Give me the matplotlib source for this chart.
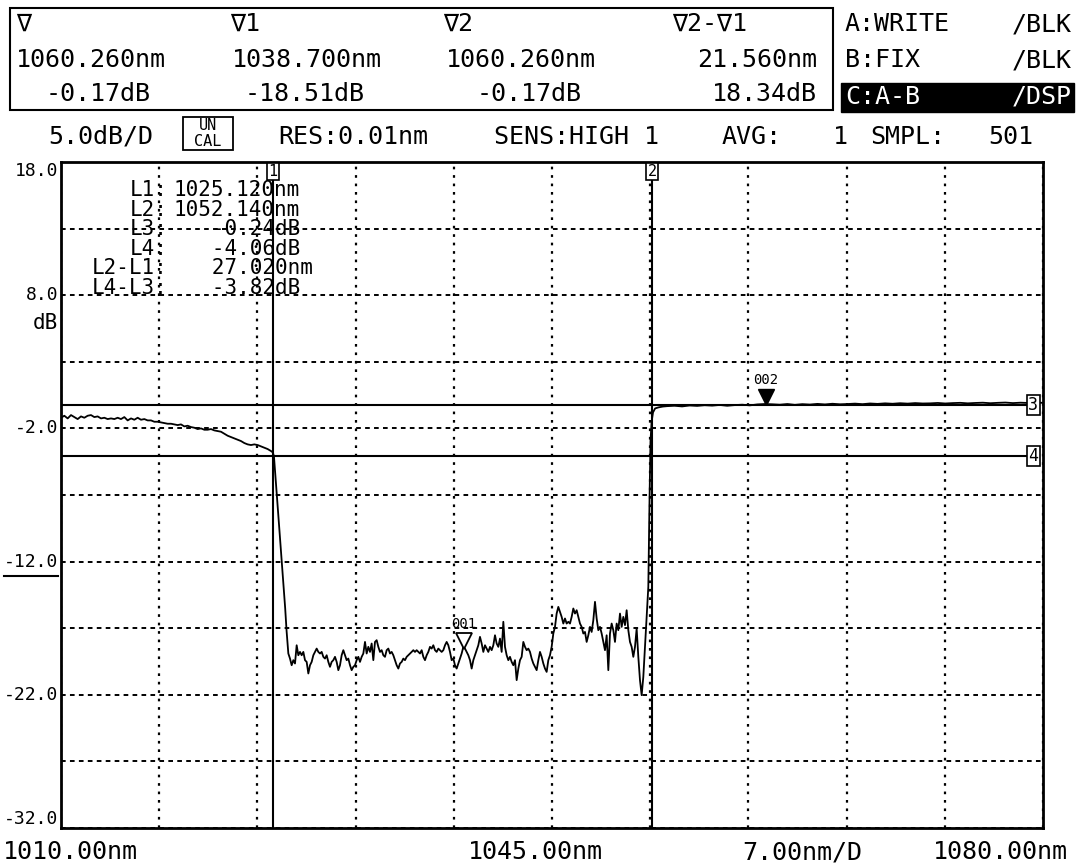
"""
Pantalla de analizador de espectro óptico: transmisión de un filtro (A-B).
"""
import numpy as np
import matplotlib.pyplot as plt
import matplotlib.transforms as mtransforms
from matplotlib.patches import Rectangle
from matplotlib.lines import Line2D

# ---------------- datos ----------------
wl_start, wl_stop = 1010.0, 1080.0
db_top, db_bottom = 18.0, -32.0
y_ticks = [18.0, 8.0, -2.0, -12.0, -22.0, -32.0]

# banda de paso izquierda (paso 0.2376 nm desde 1010 nm)
pass_left_start = 1010.0
pass_left_step = 0.2376
pass_left_db = [
    -1.20, -1.05, -1.25, -1.00, -1.15, -1.30, -1.10, -1.20, -1.05, -1.00,
    -1.15, -1.10, -1.25, -1.20, -1.30, -1.25, -1.30, -1.20, -1.30, -1.15,
    -1.40, -1.25, -1.35, -1.20, -1.35, -1.30, -1.40, -1.40, -1.50, -1.50,
    -1.55, -1.60, -1.65, -1.65, -1.70, -1.75, -1.70, -1.85, -1.80, -1.90,
    -1.95, -2.05, -2.00, -2.10, -2.10, -2.05, -2.15, -2.20, -2.25, -2.40,
    -2.55, -2.65, -2.75, -2.85, -2.95, -3.10, -3.20, -3.25, -3.20, -3.25,
    -3.35, -3.45, -3.55, -3.70,
]

# flanco de bajada
edge_down_wl = [1025.10, 1025.18, 1025.28, 1025.42, 1025.56, 1025.70, 1025.84, 1025.98, 1026.08]
edge_down_db = [-3.80, -4.10, -5.50, -7.50, -9.50, -11.50, -13.50, -15.50, -17.20]

# banda de rechazo (paso 0.1188 nm)
stop_start = 1026.205
stop_step = 0.1188
stop_db = [
    -18.90, -19.28, -19.78, -19.40, -19.65, -18.28, -19.03, -18.78, -19.03, -18.78,
    -19.40, -19.53, -20.40, -19.78, -19.53, -19.03, -18.78, -18.53, -18.78, -18.90,
    -18.78, -19.15, -19.28, -19.03, -19.53, -19.90, -19.53, -19.40, -19.15, -19.53,
    -20.15, -19.78, -19.03, -18.65, -19.03, -19.40, -19.28, -19.78, -20.15, -19.90,
    -19.78, -19.40, -19.15, -19.53, -19.15, -18.90, -18.03, -18.90, -18.40, -18.78,
    -18.15, -19.40, -18.03, -17.90, -18.40, -18.78, -18.65, -19.03, -19.15, -18.65,
    -18.53, -18.90, -18.78, -19.03, -19.40, -19.78, -20.03, -19.65, -19.53, -19.28,
    -19.40, -19.15, -19.03, -18.90, -18.78, -18.65, -18.78, -18.65, -18.78, -18.90,
    -18.65, -19.15, -19.40, -19.03, -18.78, -18.40, -18.53, -18.28, -18.65, -18.78,
    -18.53, -18.65, -18.78, -18.65, -18.28, -18.03, -18.28, -18.78, -19.40, -19.28,
    -19.78, -20.03,
    -19.65, -19.28, -18.90, -18.40, -18.53, -18.78, -19.03, -19.40, -20.03, -19.40,
    -19.03, -18.65, -18.28, -17.65, -18.15, -18.78, -18.28, -18.53, -18.78, -18.40,
    -18.65, -18.28, -17.53, -18.15, -18.40, -17.78, -18.78, -16.52, -18.40, -19.03,
    -19.40, -19.15, -19.53, -19.78, -19.40, -20.90, -20.03, -19.40, -19.15, -18.03,
    -18.40, -18.65, -18.53, -18.78, -19.28, -19.65, -19.90, -20.15, -19.40, -18.78,
    -19.15, -19.65, -20.03, -20.28, -19.40, -19.03, -18.40, -17.40, -16.90, -15.90,
    -15.40, -15.77, -16.15, -16.65, -16.27, -16.65, -16.52, -16.65, -16.15, -15.52,
    -15.90, -15.65, -16.15, -16.65, -16.90, -17.40, -17.28, -18.03, -17.53, -16.90,
    -17.28, -16.40, -15.02, -16.27, -17.15, -16.90, -17.40, -18.03, -18.65, -17.53,
    -20.15, -17.40, -16.65, -17.15, -18.03, -16.65, -17.15, -15.90, -16.90, -16.15,
    -16.77, -15.65, -17.15, -18.03, -18.40, -19.15, -18.40, -17.03, -19.15, -20.90,
    -22.03, -20.65, -18.40, -16.15, -13.90,
]

# flanco de subida
edge_up_wl = [1051.95, 1052.02, 1052.10, 1052.20, 1052.35, 1052.60, 1052.90]
edge_up_db = [-7.50, -3.00, -1.50, -0.80, -0.50, -0.42, -0.36]

# banda de paso derecha (paso 0.536 nm)
pass_right_start = 1053.2
pass_right_step = 0.536
pass_right_db = [
    -0.33, -0.30, -0.35, -0.28, -0.31, -0.26, -0.29, -0.24, -0.30, -0.25,
    -0.22, -0.27, -0.20, -0.17, -0.19, -0.22, -0.17, -0.23, -0.18, -0.21,
    -0.16, -0.20, -0.15, -0.19, -0.17, -0.14, -0.18, -0.13, -0.16, -0.12,
    -0.15, -0.11, -0.14, -0.10, -0.13, -0.12, -0.09, -0.13, -0.10, -0.08,
    -0.12, -0.09, -0.07, -0.11, -0.08, -0.06, -0.10, -0.07, -0.09, -0.06, -0.08,
]

# marcadores y líneas
marker1 = (1038.700, -18.51)
marker2 = (1060.260, -0.17)
L1, L2 = 1025.120, 1052.140
L3, L4 = -0.24, -4.06

# ---------------- figura ----------------
W, H = 1076, 868
MONO = ['DejaVu Sans Mono', 'DejaVu Sans']
plt.rcParams['font.family'] = MONO


def fx(x):
    return x / W


def fy(y):
    return 1 - y / H


def ftext(x, y, s, size=18, ha='left', va='center', **kw):
    fig.text(fx(x), fy(y), s, fontsize=size, ha=ha, va=va, family=MONO, **kw)


fig = plt.figure(figsize=(W / 100, H / 100), dpi=100, facecolor='white')
ax = fig.add_axes([fx(61), fy(828), (1043 - 61) / W, (828 - 162) / H])

wl = np.concatenate([
    pass_left_start + pass_left_step * np.arange(len(pass_left_db)),
    edge_down_wl,
    stop_start + stop_step * np.arange(len(stop_db)),
    edge_up_wl,
    pass_right_start + pass_right_step * np.arange(len(pass_right_db)),
])
db = np.concatenate([pass_left_db, edge_down_db, stop_db, edge_up_db, pass_right_db])

ax.set_xlim(wl_start, wl_stop)
ax.set_ylim(db_bottom, db_top)
ax.set_xticks(np.linspace(wl_start, wl_stop, 11))
ax.set_yticks(y_ticks + [13.0, 3.0, -7.0, -17.0, -27.0])
ax.tick_params(length=0, labelbottom=False, labelleft=False)
ax.xaxis.grid(True, color='k', lw=1.6, linestyle=(0, (1.2, 2.6)))
ax.yaxis.grid(True, color='k', lw=1.4, linestyle=(0, (2.4, 2.2)))
for sp in ax.spines.values():
    sp.set_linewidth(2)

ax.plot(wl, db, color='k', lw=1.3, zorder=3)

# líneas L1..L4
ax.axvline(L1, color='k', lw=1.5, zorder=2)
ax.axvline(L2, color='k', lw=1.5, zorder=2)
ax.axhline(L3, xmax=0.985, color='k', lw=1.5, zorder=2)
ax.axhline(L4, xmax=0.985, color='k', lw=1.5, zorder=2)

bx = mtransforms.blended_transform_factory(ax.transData, ax.transAxes)
by = mtransforms.blended_transform_factory(ax.transAxes, ax.transData)
box = dict(boxstyle='square,pad=0.08', fc='white', ec='k', lw=1.2)
for xv, lab in [(L1, '1'), (L2, '2')]:
    ax.text(xv, 0.997, lab, transform=bx, ha='center', va='top', fontsize=11,
            bbox=box, zorder=5)
for yv, lab in [(L3, '3'), (L4, '4')]:
    ax.text(0.99, yv, lab, transform=by, ha='center', va='center', fontsize=12,
            bbox=box, zorder=5)

# marcadores de traza
tri = mtransforms.offset_copy(ax.transData, fig=fig, x=0, y=7.5, units='dots')
lab_off = mtransforms.offset_copy(ax.transData, fig=fig, x=0, y=17, units='dots')
ax.plot(*marker1, marker='v', ms=11, mfc='white', mec='k', mew=1.3,
        transform=tri, zorder=6)
ax.plot(*marker2, marker='v', ms=11, mfc='k', mec='k', transform=tri, zorder=6)
ax.text(*marker1, '001', transform=lab_off, ha='center', va='bottom', fontsize=10)
ax.text(*marker2, '002', transform=lab_off, ha='center', va='bottom', fontsize=10)

# etiquetas del eje y
for v in y_ticks:
    va = 'top' if v == db_top else ('bottom' if v == db_bottom else 'center')
    ax.text(-0.003, v, f'{v:.1f}', transform=by, ha='right', va=va, fontsize=13,
            family=MONO)
db_off = mtransforms.offset_copy(by, fig=fig, x=0, y=-28, units='dots')
ax.text(-0.003, 8.0, 'dB', transform=db_off, ha='right', va='center', fontsize=15)
ul = mtransforms.offset_copy(by, fig=fig, x=0, y=-14, units='dots')
ax.add_line(Line2D([-0.058, -0.003], [-12.0, -12.0], transform=ul, color='k',
                   lw=1.5, clip_on=False))

# tabla L dentro del gráfico
tabla = [('L1:', f'{L1:.3f}nm'), ('L2:', f'{L2:.3f}nm'),
         ('L3:', f'{L3:7.2f}dB'), ('L4:', f'{L4:7.2f}dB'),
         ('L2-L1:', f'{L2 - L1:9.3f}nm'), ('L4-L3:', f'{L4 - L3:7.2f}dB')]
for i, (nom, val) in enumerate(tabla):
    y = 190 + 19.5 * i
    ftext(168, y, nom, size=15, ha='right')
    ftext(174, y, val if i < 2 else val.rjust(10), size=15)

# panel superior
fig.add_artist(Rectangle((fx(10), fy(110)), fx(833) - fx(10), fy(8) - fy(110),
                         transform=fig.transFigure, fill=False, ec='k', lw=1.5))
ftext(16, 24, '∇')
ftext(230, 24, '∇1')
ftext(443, 24, '∇2')
ftext(672, 24, '∇2-∇1')
ftext(16, 60, f'{marker2[0]:.3f}nm')
ftext(232, 60, f'{marker1[0]:.3f}nm')
ftext(446, 60, f'{marker2[0]:.3f}nm')
ftext(817, 60, f'{marker2[0] - marker1[0]:.3f}nm', ha='right')
ftext(46, 94, f'{marker2[1]:.2f}dB')
ftext(245, 94, f'{marker1[1]:.2f}dB')
ftext(477, 94, f'{marker2[1]:.2f}dB')
ftext(817, 94, f'{marker2[1] - marker1[1]:.2f}dB', ha='right')

ftext(845, 24, 'A:WRITE')
ftext(1072, 24, '/BLK', ha='right')
ftext(845, 60, 'B:FIX')
ftext(1072, 60, '/BLK', ha='right')
fig.add_artist(Rectangle((fx(841), fy(112)), fx(1074) - fx(841), fy(83) - fy(112),
                         transform=fig.transFigure, fc='k', ec='k'))
ftext(845, 97, 'C:A-B', color='white')
ftext(1072, 97, '/DSP', ha='right', color='white')

# fila de parámetros
ftext(48, 137, '5.0dB/D')
fig.add_artist(Rectangle((fx(183), fy(150)), fx(233) - fx(183), fy(117) - fy(150),
                         transform=fig.transFigure, fill=False, ec='k', lw=1.3))
ftext(208, 126, 'UN', size=11, ha='center')
ftext(208, 141, 'CAL', size=11, ha='center')
ftext(278, 137, 'RES:0.01nm')
ftext(494, 137, 'SENS:HIGH 1')
ftext(722, 137, 'AVG:')
ftext(833, 137, '1')
ftext(870, 137, 'SMPL:')
ftext(988, 137, '501')

# fila inferior
ftext(3, 852, f'{wl_start:.2f}nm')
ftext(468, 852, f'{(wl_start + wl_stop) / 2:.2f}nm')
ftext(742, 852, f'{(wl_stop - wl_start) / 10:.2f}nm/D')
ftext(1068, 852, f'{wl_stop:.2f}nm', ha='right')

fig.savefig('out.png', dpi=100, facecolor='white')
